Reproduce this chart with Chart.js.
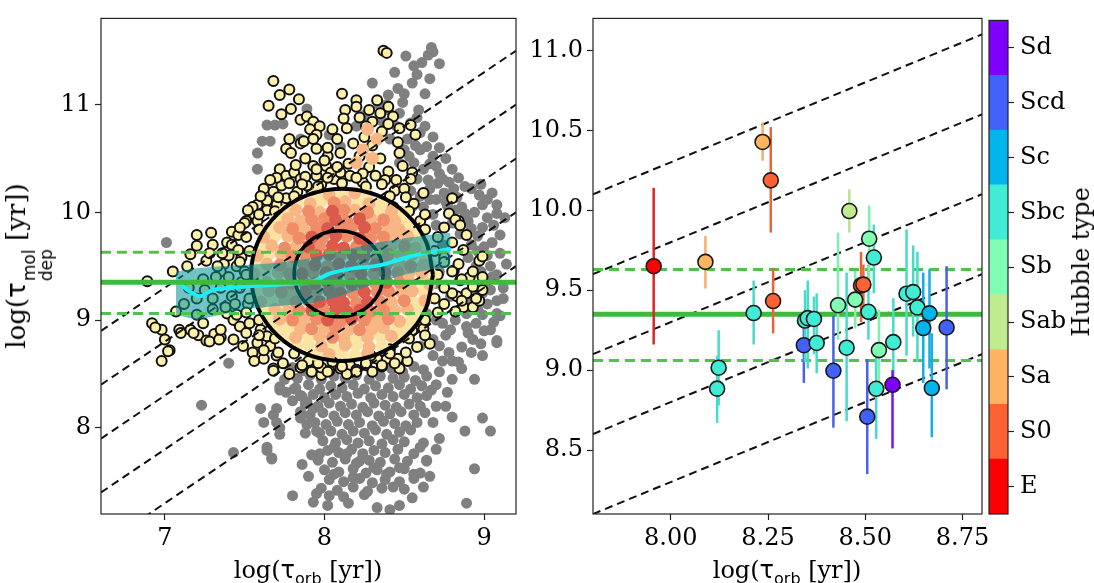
<!DOCTYPE html>
<html>
<head>
<meta charset="utf-8">
<script src="https://cdn.jsdelivr.net/npm/chart.js@4.4.1/dist/chart.umd.min.js"></script>
<style>
  html, body { margin: 0; padding: 0; background: #fff; }
  body { width: 1094px; height: 583px; position: relative; overflow: hidden; font-family: 'DejaVu Serif', serif; }
  .box { position: absolute; top: 0; height: 583px; }
  .title { position: absolute; font-size: 24px; white-space: nowrap; color: #000; line-height: 1; }
  .xt { top: 558px; width: 320px; text-align: center; }
  .rot { transform: translate(-50%, -50%) rotate(-90deg); }
  .m { font-family: 'DejaVu Sans', sans-serif; }
  .sub { font-family: 'DejaVu Sans', sans-serif; font-size: 16px; position: relative; top: 6px; }
  .stack { display: inline-flex; flex-direction: column; font-family: 'DejaVu Sans', sans-serif; font-size: 17px; line-height: 17px; vertical-align: -10px; margin-left: 1px; }
</style>
</head>
<body>
<div class="box" style="left:0;width:530px"><canvas id="leftChart" width="530" height="583"></canvas></div>
<div class="box" style="left:480px;width:520px"><canvas id="rightChart" width="520" height="583"></canvas></div>
<div class="box" style="left:960px;width:134px"><canvas id="barChart" width="134" height="583"></canvas></div>

<div class="title xt" style="left:148px">log(<span class="m">τ</span><span class="sub">orb</span> [yr])</div>
<div class="title xt" style="left:627px">log(<span class="m">τ</span><span class="sub">orb</span> [yr])</div>
<div class="title rot" style="left:29px;top:266px;font-size:26px">log(<span class="m">τ</span><span class="stack"><span>mol</span><span>dep</span></span> [yr])</div>
<div class="title rot" style="left:1081px;top:262px">Hubble type</div>

<script>
// axis ranges and ticks
const leftXRange = [6.6, 9.2];
const leftYRange = [7.2, 11.8];
const leftXTicks = [7, 8, 9];
const leftYTicks = [8, 9, 10, 11];
const rightXRange = [7.8, 8.8];
const rightYRange = [8.1, 11.2];
const rightXTicks = [8.0, 8.25, 8.5, 8.75];
const rightYTicks = [8.5, 9.0, 9.5, 10.0, 10.5, 11.0];

// median depletion time and its scatter
const depMedian = 9.35;
const depLow = 9.06;
const depHigh = 9.63;

// constant ratio lines [x0, y0, x1, y1]
const leftDiagLines = [
    [6.6, 8.9, 9.2, 11.5], [6.6, 8.4, 9.2, 11.0], [6.6, 7.9, 9.2, 10.5],
    [6.6, 7.4, 9.2, 10.0], [6.6, 6.9, 9.2, 9.5]
];
const rightDiagLines = [
    [7.8, 10.1, 8.8, 11.1], [7.8, 9.6, 8.8, 10.6], [7.8, 9.1, 8.8, 10.1],
    [7.8, 8.6, 8.8, 9.6], [7.8, 8.1, 8.8, 9.1]
];

// Hubble types (colorbar)
const hubbleTypes = ['E', 'S0', 'Sa', 'Sab', 'Sb', 'Sbc', 'Sc', 'Scd', 'Sd'];
const typeColors = ['#ff0000', '#ff6232', '#ffb462', '#bfec8e', '#80ffb4', '#40ecd4', '#00b4ec', '#4062fa', '#8000ff'];
const errColors = ['#d62828', '#ea6438', '#f2b06a', '#bce08c', '#7ef0b0', '#46dcc8', '#14aee2', '#4a62e6', '#7a12f0'];

// right panel: galaxies
const galX    = [7.956, 8.089, 8.236, 8.257, 8.263, 8.213, 8.123, 8.119, 8.342, 8.345, 8.352, 8.368, 8.375, 8.418, 8.430, 8.452, 8.459, 8.474, 8.489, 8.495, 8.508, 8.510, 8.522, 8.535, 8.528, 8.572, 8.570, 8.505, 8.606, 8.623, 8.634, 8.665, 8.649, 8.671, 8.709];
const galY    = [9.65, 9.677, 10.427, 10.187, 9.432, 9.357, 9.015, 8.884, 9.156, 9.31, 9.325, 9.32, 9.17, 8.996, 9.406, 9.14, 9.995, 9.441, 9.53, 9.535, 9.365, 9.822, 9.704, 9.125, 8.883, 9.175, 8.908, 8.709, 9.478, 9.488, 9.392, 9.355, 9.263, 8.888, 9.267];
const galLo   = [9.16, 9.51, 10.31, 9.86, 9.23, 9.16, 8.78, 8.67, 8.92, 9.05, 9.01, 9.10, 8.98, 8.64, 9.19, 8.68, 9.86, 9.26, 9.30, 9.36, 9.19, 9.54, 9.48, 8.90, 8.57, 8.86, 8.51, 8.35, 9.09, 9.21, 9.05, 9.01, 8.92, 8.58, 8.88];
const galHi   = [10.14, 9.84, 10.55, 10.52, 9.64, 9.56, 9.25, 9.09, 9.32, 9.50, 9.56, 9.46, 9.48, 9.34, 9.86, 9.61, 10.13, 9.62, 9.74, 9.66, 9.66, 10.03, 9.91, 9.38, 9.11, 9.45, 9.00, 9.07, 9.88, 9.78, 9.74, 9.63, 9.61, 9.23, 9.65];
const galType = [0, 2, 2, 1, 1, 5, 5, 5, 7, 5, 5, 5, 5, 7, 4, 5, 3, 4, 1, 1, 5, 4, 5, 4, 5, 5, 8, 7, 5, 5, 5, 6, 6, 6, 7];

// left panel: full sample (grey)
const grayPts = [
    [8.51,11.45],[8.56,11.36],[8.61,11.39],[8.65,11.46],[8.67,11.53],[8.68,11.49],[8.30,11.20],[8.66,11.24],[8.63,11.10],[8.40,11.09],
    [8.34,11.00],[8.39,11.00],[7.89,10.96],[7.64,10.81],[7.69,10.81],[7.74,10.82],[7.61,10.66],[7.66,10.66],[7.58,10.55],[7.58,10.40],
    [7.85,10.68],[8.03,10.72],[8.10,10.61],[8.47,10.92],[8.54,10.83],[8.60,10.74],[8.64,10.61],[8.68,10.52],[8.70,10.43],[8.74,10.31],
    [8.81,10.22],[8.66,10.22],[8.58,10.31],[8.56,10.46],[8.47,10.46],[8.52,10.68],[8.41,10.68],[8.45,10.80],[8.36,10.85],[8.50,10.58],
    [8.62,10.40],[8.72,10.36],[8.78,10.28],[8.60,10.15],[8.70,10.12],[8.55,10.05],[8.25,10.90],[8.20,10.80],[8.59,10.95],[8.49,11.02],
    [8.57,10.62],[8.65,10.30],[8.75,10.18],[8.62,10.05],[8.68,9.98],[8.76,10.10],[8.83,10.14],[8.71,10.27],
    [8.58,10.88],[8.63,10.80],[8.68,10.70],[8.72,10.60],[8.76,10.50],[8.80,10.40],[8.84,10.32],[8.88,10.24],[8.92,10.22],[9.02,10.12],
    [8.86,10.05],[8.94,10.00],[9.02,9.95],[9.06,9.88],[8.96,9.78],[9.00,9.68],[9.10,9.62],[8.96,9.64],[9.04,9.50],[8.98,9.45],
    [9.08,9.42],[9.12,9.20],[9.04,9.28],[9.02,9.15],[9.06,8.98],[8.96,9.10],[8.90,8.88],[8.98,8.78],[8.92,8.70],[8.86,8.55],
    [8.80,8.62],[8.72,8.76],[8.76,8.86],[8.70,9.00],[8.66,9.20],[8.72,9.45],[8.74,9.70],[8.70,9.88],[8.66,10.12],[8.54,10.20],
    [8.60,10.58],[8.53,10.52],[8.66,10.45],[8.82,10.02],[8.90,9.92],[8.98,10.26],[9.05,10.18],[8.46,11.15],[8.55,11.20],[8.44,11.30],
    [8.58,11.28],[8.50,11.10],[8.72,11.38],[8.40,10.95],
    [8.97,10.16],[8.99,10.07],[9.08,10.07],[9.13,9.95],[9.10,9.79],[8.77,10.06],[8.88,9.99],[8.99,9.86],[9.08,9.99],[9.14,9.52],
    [8.99,9.25],[9.08,9.18],[9.10,9.04],[8.95,8.97],[9.08,8.81],[8.99,8.67],[8.89,9.06],[8.99,9.05],[9.08,9.06],[8.79,8.91],
    [8.89,8.94],[8.84,8.61],[8.77,8.33],[8.68,8.67],[8.72,8.52],[8.60,8.76],[8.68,8.82],[8.74,8.97],[8.79,9.22],[8.64,9.06],
    [8.70,9.34],[8.92,9.70],[9.02,9.60],[9.05,9.40],[8.85,9.80],[8.80,9.90],[8.95,9.50],[9.12,9.30],[8.92,9.15],[8.85,9.10],
    [9.00,8.90],[9.04,8.91],[9.08,8.79],[8.92,9.85],[9.05,9.72],[8.90,9.58],[9.00,9.35],[8.82,9.00],[8.93,8.82],[8.86,8.75],
    [8.78,8.70],[8.74,8.62],[8.80,8.45],[8.70,8.40],
    [7.01,9.72],[7.23,8.21],[7.60,8.18],[7.64,7.79],[7.67,7.71],[7.43,7.77],[8.88,7.97],[8.94,8.45],[8.99,8.09],[9.04,7.97],
    [8.94,7.62],[7.80,7.37],[7.95,7.39],[8.03,7.37],[8.12,7.36],[7.93,7.31],[8.02,7.28],[8.33,7.26],[8.41,7.24],[8.89,7.30],
    [7.40,8.60],[7.72,8.35],[7.70,8.05],
    [7.85,8.15],[7.80,8.25],[7.75,8.45],[8.70,8.20],[8.68,8.05],[8.72,7.90],[8.66,7.55],[8.70,7.80],[8.62,7.45],[7.90,7.55],
    [7.92,7.75],[7.88,7.95],[8.15,7.30],[8.25,7.38],[8.55,7.35],[8.47,7.28],[7.86,7.66],[8.76,8.20],[8.80,8.10],
    [7.72,8.38],[7.76,8.33],[7.81,8.36],[7.85,8.30],[7.89,8.24],[7.93,8.18],[7.85,8.09],[7.89,8.03],[7.95,7.97],[7.70,8.18],
    [7.68,8.12],[7.62,8.05],[7.72,8.00],[7.64,7.82],[7.67,7.72],[7.72,7.94],
    [7.97,7.76],[8.06,7.82],[8.14,7.76],[8.22,7.69],[8.31,7.63],[8.39,7.57],[8.47,7.63],[8.56,7.57],[8.64,7.69],[8.60,7.82],
    [8.43,7.45],[8.18,7.54],[8.06,7.57],
    [7.80,8.56],[7.87,8.53],[7.95,8.57],[8.42,8.55],[8.49,8.52],[8.56,8.57],[8.62,8.54],
    [7.83,8.46],[7.91,8.49],[7.98,8.45],[8.06,8.48],[8.13,8.46],[8.20,8.49],[8.28,8.45],[8.35,8.48],[8.43,8.46],[8.50,8.47],[8.57,8.44],[8.64,8.48],
    [7.82,8.37],[7.90,8.40],[7.97,8.36],[8.04,8.39],[8.11,8.37],[8.18,8.40],[8.25,8.36],[8.32,8.39],[8.40,8.37],[8.47,8.40],[8.54,8.36],[8.61,8.39],[8.67,8.35],
    [7.86,8.29],[7.93,8.31],[8.00,8.28],[8.07,8.31],[8.14,8.29],[8.21,8.32],[8.29,8.28],[8.36,8.31],[8.43,8.29],[8.50,8.31],[8.58,8.28],[8.64,8.30],
    [7.88,8.22],[7.96,8.20],[8.03,8.23],[8.10,8.20],[8.17,8.22],[8.24,8.19],[8.31,8.23],[8.38,8.21],[8.45,8.19],[8.53,8.22],[8.60,8.20],
    [7.91,8.12],[7.99,8.14],[8.06,8.11],[8.13,8.14],[8.20,8.12],[8.27,8.15],[8.34,8.11],[8.41,8.13],[8.48,8.15],[8.56,8.12],[8.63,8.14],
    [7.94,8.05],[8.01,8.03],[8.08,8.06],[8.15,8.03],[8.22,8.05],[8.30,8.02],[8.37,8.06],[8.44,8.04],[8.51,8.02],[8.58,8.05],
    [7.97,7.95],[8.04,7.97],[8.11,7.94],[8.18,7.97],[8.25,7.95],[8.32,7.98],[8.39,7.94],[8.47,7.96],[8.54,7.98],
    [7.99,7.88],[8.07,7.86],[8.14,7.89],[8.21,7.86],[8.28,7.88],[8.36,7.85],[8.43,7.89],[8.50,7.87],[8.62,7.86],
    [8.02,7.79],[8.09,7.77],[8.17,7.80],[8.24,7.76],[8.31,7.79],[8.38,7.77],[8.46,7.80],[8.56,7.76],
    [7.96,7.70],[8.05,7.68],[8.13,7.71],[8.20,7.67],[8.28,7.70],[8.35,7.68],[8.44,7.71],[8.52,7.69],[8.64,7.70],
    [8.00,7.61],[8.09,7.59],[8.18,7.62],[8.26,7.58],[8.33,7.61],[8.41,7.59],[8.50,7.62],[8.60,7.58],
    [8.03,7.52],[8.12,7.50],[8.22,7.53],[8.30,7.49],[8.38,7.52],[8.47,7.50],[8.56,7.53],
    [7.98,7.44],[8.08,7.42],[8.18,7.45],[8.27,7.41],[8.36,7.44],[8.50,7.43]
];

// left panel: low density sub-sample (outlined)
const yellowPts = [
    [7.68,11.22],[7.72,11.09],[7.78,11.14],[7.84,11.05],[7.65,10.99],[7.73,10.91],[7.79,10.96],[7.85,10.86],[7.89,10.89],[7.93,10.84],
    [7.91,10.77],[7.97,10.80],[8.11,11.10],[8.20,11.04],[8.13,10.95],[8.37,11.50],[8.39,11.48],
    [8.05,10.77],[7.95,10.72],[7.78,10.68],[7.85,10.64],[7.76,10.59],[7.79,10.55],[7.87,10.66],[7.93,10.68],[7.95,10.59],[8.02,10.52],[8.10,10.55],
    [8.43,10.89],[8.47,10.78],[8.54,10.81],[8.57,10.72],[8.47,10.55],[8.49,10.43],[8.55,10.37],[8.54,10.31],
    [7.72,10.40],[7.76,10.34],[7.81,10.37],[7.85,10.31],[7.73,10.25],[7.68,10.19],[7.64,10.11],[7.58,10.07],[7.56,9.98],[7.51,9.92],
    [7.58,9.92],[7.64,10.02],[7.70,10.07],[7.76,10.13],[7.83,10.19],[7.89,10.25],[7.95,10.34],[7.93,10.43],[8.01,10.43],[8.06,10.31],[8.10,10.37],
    [7.20,9.79],[7.29,9.81],[7.42,9.82],[7.16,9.61],
    [7.20,9.69],[7.30,9.70],[7.14,9.50],[7.05,9.45],[6.89,9.36],[7.07,9.08],[6.92,8.97],[6.98,8.91],[7.00,8.82],[7.03,8.72],
    [6.98,8.62],[7.09,8.91],[7.16,8.91],[7.21,8.86],[7.24,8.97],[7.31,8.87],[7.26,8.81],[7.35,8.84],[6.94,8.93],[7.02,8.71],
    [7.10,8.88],[7.18,8.88],[7.28,8.80],[7.34,8.82],[7.35,8.91],
    [7.39,9.72],[7.46,9.79],[7.37,9.52],[7.48,9.58],[7.26,9.55],[7.35,9.45],[7.24,9.38],
    [7.39,9.06],[7.43,9.00],[7.47,8.94],[7.51,8.88],[7.43,8.82],[7.49,8.76],[7.55,8.70],[7.58,8.79],[7.53,8.97],[7.60,8.91],
    [7.64,8.85],[7.66,8.76],[7.62,8.64],[7.70,8.67],[7.68,8.55],
    [7.68,8.53],[7.85,8.56],[7.92,8.52],[8.05,8.61],[8.10,8.55],[8.16,8.58],[8.20,8.54],[8.26,8.58],[8.33,8.64],[8.39,8.64],
    [8.46,8.64],[8.47,8.55],[8.55,8.90],[8.56,8.98],[8.41,8.73],[8.29,8.67],[7.78,8.50],[7.98,8.49],[8.03,8.53],[8.36,8.57],[7.90,8.62],
    [8.81,9.46],[8.85,9.37],[8.91,9.40],[8.95,9.31],[8.89,9.25],[8.83,9.22],[8.87,9.12],[8.93,9.12],[8.99,9.28],[8.97,9.18],
    [8.75,9.86],[8.84,9.92],[8.80,9.72],[8.87,9.65],[8.75,9.58],[8.84,9.52],[8.97,9.55],[8.93,9.45],[8.99,9.40],[8.80,9.45],
    [8.86,9.38],[8.93,9.31],[8.80,9.25],[8.75,9.15],[8.86,9.18],[8.95,9.20],[8.82,9.08],[8.80,10.13],[8.78,9.99],[8.82,9.93],
    [8.85,9.88],[8.89,9.79],[8.99,9.59],
    [7.40,9.60],[7.45,9.50],[7.40,9.40],[7.35,9.30],[7.42,9.22],[7.38,9.12],[7.45,9.05],[7.33,9.50],[7.30,9.20],[7.25,9.28],
    [7.20,9.20],[7.15,9.30],[7.42,9.70],[7.50,9.90],[7.55,10.05],[7.30,9.10],[7.20,9.05],[7.12,9.15],
    [7.46,9.65],[7.50,9.45],[7.48,9.35],[7.52,9.15],[7.44,9.15],[7.36,9.62],[7.32,9.40],[7.28,9.62],[7.62,10.22],[7.70,10.32],
    [7.82,10.44],[7.88,10.50],[7.98,10.26],[8.04,10.37],[7.52,10.02],[7.47,9.86],[7.56,8.62],[7.62,8.72],[7.74,8.60],[7.98,8.56],
    [8.14,8.50],[8.30,8.52],[8.44,8.60],[8.52,8.62],[8.58,8.75],[8.62,8.92],[8.66,8.78],[8.24,10.28],[8.44,10.20],[8.56,10.08],
    [8.62,10.18],[8.60,9.92],
    [7.95,10.40],[8.00,10.48],[8.15,10.45],[8.22,10.52],[8.28,10.42],[8.35,10.50],[8.40,10.38],[8.30,10.62],[8.25,10.70],[8.18,10.64],
    [8.36,10.75],[8.30,10.84],[8.22,10.88],[8.28,10.95],[8.35,10.92],[8.40,10.98],[8.14,10.78],[8.08,10.42],[8.45,10.30],[8.50,10.22],
    [8.38,10.30],[7.88,10.33],[7.78,10.27],[7.60,10.15],[7.66,10.30],[8.02,10.60],[8.46,10.65],[8.43,10.05],[8.16,10.34],[8.24,10.36],
    [8.32,10.34],[8.20,10.98],[8.33,11.04],[8.26,10.80],[8.40,10.82],[8.08,10.68],[8.12,10.87],
    [8.71,9.42],[8.69,9.64],[8.63,9.84],[8.53,10.01],[8.41,10.15],[8.26,10.24],[8.11,10.27],[7.96,10.24],[7.81,10.15],[7.69,10.01],
    [7.59,9.84],[7.53,9.64],[7.51,9.42],[7.53,9.20],[7.59,9.00],[7.69,8.83],[7.81,8.69],[7.96,8.60],[8.11,8.57],[8.26,8.60],
    [8.41,8.69],[8.53,8.83],[8.63,9.00],[8.69,9.20],
    [8.75,9.54],[8.71,9.77],[8.63,9.98],[8.51,10.14],[8.36,10.26],[8.20,10.32],[8.02,10.32],[7.86,10.26],[7.71,10.14],[7.59,9.98],
    [7.51,9.77],[7.47,9.54],[7.47,9.30],[7.51,9.07],[7.59,8.86],[7.71,8.70],[7.86,8.58],[8.02,8.52],[8.20,8.52],[8.36,8.58],
    [8.51,8.70],[8.63,8.86],[8.71,9.07],[8.75,9.30]
];

// left panel: high density sub-sample, by density class
const densPale = [
    [7.95,10.17],[8.11,10.18],[8.27,10.16],[7.83,10.09],[7.98,10.10],[8.21,10.08],[8.36,10.09],[7.75,10.01],[8.34,10.02],[8.48,10.00],
    [7.70,9.93],[8.51,9.94],[7.65,9.85],[8.55,9.86],[7.69,9.78],[8.59,9.76],[7.60,9.68],[8.63,9.69],[7.65,9.61],[8.63,9.59],
    [7.57,9.51],[8.66,9.52],[7.63,9.44],[8.67,9.42],[7.57,9.34],[8.62,9.35],[7.58,9.26],[8.62,9.27],[7.67,9.18],[8.57,9.16],
    [7.62,9.09],[8.59,9.10],[7.65,9.00],[8.55,9.01],[7.70,8.92],[7.77,8.93],[8.45,8.91],[8.52,8.93],[7.75,8.84],[7.90,8.85],
    [8.20,8.83],[8.35,8.85],[8.48,8.84],[7.83,8.76],[7.90,8.77],[8.05,8.75],[8.20,8.77],[8.36,8.76],[7.95,8.68],[8.11,8.69],[8.19,8.67]
];
const densPeach = [
    [8.03,10.16],[8.19,10.18],[7.91,10.08],[8.13,10.10],[8.28,10.08],[7.82,10.02],[7.97,10.00],[8.19,10.02],[8.42,10.01],
    [7.77,9.94],[7.85,9.92],[8.29,9.94],[8.44,9.92],[7.72,9.86],[7.87,9.84],[8.40,9.86],[8.47,9.84],
    [7.62,9.77],[7.77,9.78],[8.44,9.77],[8.52,9.78],[7.67,9.69],[7.82,9.68],[8.42,9.69],[8.57,9.67],
    [7.58,9.60],[7.73,9.61],[8.48,9.60],[8.55,9.61],[7.64,9.52],[7.79,9.50],[8.47,9.52],[8.62,9.51],
    [7.56,9.43],[7.71,9.44],[8.53,9.43],[8.61,9.44],[7.64,9.35],[7.72,9.33],[8.54,9.34],[8.66,9.33],
    [7.65,9.27],[7.80,9.25],[8.48,9.26],[8.55,9.27],[7.60,9.17],[7.75,9.18],[8.42,9.17],[8.63,9.18],
    [7.69,9.10],[7.77,9.08],[8.44,9.09],[8.52,9.10],[7.72,9.01],[7.87,9.00],[8.32,9.01],[8.47,8.99],
    [7.85,8.92],[8.00,8.93],[8.15,8.91],[8.30,8.92],[8.37,8.93],[7.82,8.84],[7.97,8.85],[8.12,8.83],[8.27,8.84],[8.42,8.85],
    [7.98,8.76],[8.13,8.77],[8.28,8.75],[8.03,8.68],[8.27,8.69],
    [8.24,10.58],[8.30,10.50],[8.27,10.77],[8.33,10.68],[8.20,10.46]
];
const densSalmon = [
    [8.06,10.09],[7.90,10.01],[8.12,10.02],[8.27,10.00],[7.92,9.93],[8.00,9.94],[8.14,9.92],[8.37,9.93],
    [7.80,9.85],[7.95,9.86],[8.10,9.84],[8.17,9.86],[8.32,9.85],[7.84,9.76],[7.99,9.77],[8.14,9.78],[8.29,9.76],[8.37,9.77],
    [7.75,9.67],[7.97,9.69],[8.20,9.68],[8.35,9.67],[8.50,9.69],[7.80,9.59],[7.88,9.61],[8.10,9.60],[8.33,9.59],[8.40,9.61],
    [7.72,9.51],[7.87,9.52],[8.02,9.50],[8.24,9.51],[8.39,9.52],[8.54,9.50],[7.78,9.43],[7.93,9.44],[8.16,9.42],[8.31,9.43],[8.46,9.44],
    [7.79,9.34],[7.87,9.35],[8.09,9.33],[8.32,9.34],[8.47,9.35],[7.73,9.26],[7.95,9.27],[8.18,9.25],[8.33,9.26],[8.40,9.27],
    [7.82,9.17],[7.90,9.18],[8.20,9.16],[8.35,9.17],[8.50,9.18],[7.84,9.09],[7.99,9.10],[8.29,9.08],[8.37,9.09],
    [7.80,9.00],[7.95,9.01],[8.10,8.99],[8.25,9.00],[8.40,9.01],[7.92,8.92],[8.07,8.93],[8.22,8.91],[8.05,8.84]
];
const densRed = [
    [8.05,10.01],[8.07,9.93],[8.22,9.94],[8.02,9.85],[8.25,9.86],[7.92,9.77],[8.07,9.78],[8.22,9.76],
    [7.90,9.68],[8.05,9.69],[8.12,9.67],[8.27,9.68],[7.95,9.60],[8.03,9.61],[8.18,9.60],[8.25,9.59],
    [7.94,9.51],[8.09,9.52],[8.17,9.50],[8.32,9.51],[7.86,9.43],[8.01,9.44],[8.08,9.42],[8.23,9.43],[8.38,9.44],
    [7.94,9.34],[8.02,9.35],[8.17,9.33],[8.24,9.34],[8.39,9.35],[7.88,9.26],[8.03,9.27],[8.10,9.25],[8.25,9.26],
    [7.97,9.17],[8.05,9.18],[8.12,9.16],[8.27,9.17],[7.92,9.09],[8.07,9.10],[8.14,9.08],[8.22,9.09],[8.02,9.00],[8.17,9.01]
];

// running median and its spread
const medianX = [7.07, 7.15, 7.22, 7.30, 7.50, 7.72, 7.93, 8.03, 8.18, 8.35, 8.56, 8.79];
const medianY = [9.38, 9.27, 9.22, 9.28, 9.31, 9.33, 9.36, 9.43, 9.48, 9.51, 9.60, 9.66];
const bandX    = [7.07, 7.20, 7.35, 7.50, 7.70, 7.90, 8.10, 8.30, 8.50, 8.70, 8.79];
const bandHigh = [9.45, 9.48, 9.50, 9.51, 9.53, 9.57, 9.64, 9.71, 9.76, 9.80, 9.81];
const bandLow  = [9.05, 9.00, 9.05, 9.10, 9.13, 9.15, 9.22, 9.33, 9.42, 9.48, 9.49];

// density contours
const outerContour = [
    [8.68,9.42],[8.637,9.726],[8.513,9.986],[8.328,10.159],[8.11,10.22],[7.892,10.159],[7.707,9.986],[7.583,9.726],
    [7.54,9.42],[7.583,9.114],[7.707,8.854],[7.892,8.681],[8.11,8.62],[8.328,8.681],[8.513,8.854],[8.637,9.114],[8.68,9.42]
];
const innerContour = [
    [8.37,9.43],[8.349,9.583],[8.288,9.713],[8.197,9.80],[8.09,9.83],[7.983,9.80],[7.892,9.713],[7.831,9.583],
    [7.81,9.43],[7.831,9.277],[7.892,9.147],[7.983,9.06],[8.09,9.03],[8.197,9.06],[8.288,9.147],[8.349,9.277],[8.37,9.43]
];

const SERIF = "'DejaVu Serif', serif";
Chart.defaults.font.family = SERIF;
Chart.defaults.font.size = 24;
Chart.defaults.color = '#000';

const toXY = pts => pts.map(p => ({ x: p[0], y: p[1] }));
const zip = (xs, ys) => xs.map((x, i) => ({ x: x, y: ys[i] }));

/**
 * Draws the box around the plot area
 */
const framePlugin = {
    id: 'frame',
    afterDraw(chart) {
        const { ctx, chartArea: a } = chart;
        ctx.save();
        ctx.strokeStyle = '#222';
        ctx.lineWidth = 1.2;
        ctx.strokeRect(a.left, a.top, a.right - a.left, a.bottom - a.top);
        ctx.restore();
    }
};

/**
 * Builds a linear axis with fixed ticks and a fixed size
 */
function makeAxis(range, ticks, digits, size, isX) {
    return {
        type: 'linear',
        min: range[0],
        max: range[1],
        afterBuildTicks: s => { s.ticks = ticks.map(v => ({ value: v })); },
        afterFit: s => { if (isX) s.height = size; else s.width = size; },
        ticks: {
            autoSkip: false,
            maxRotation: 0,
            padding: 4,
            color: '#000',
            font: { family: SERIF, size: 24 },
            callback: v => v.toFixed(digits)
        },
        grid: { drawOnChartArea: false, drawTicks: true, tickLength: 6, tickWidth: 1.2, color: '#222' },
        border: { display: false }
    };
}

function lineSet(points, color, width, dash, order) {
    return {
        type: 'line',
        data: points,
        borderColor: color,
        borderWidth: width,
        borderDash: dash,
        pointRadius: 0,
        fill: false,
        order: order
    };
}

function dotSet(points, color, radius, order, outline) {
    return {
        type: 'scatter',
        data: toXY(points),
        backgroundColor: color,
        borderColor: outline ? '#111' : color,
        borderWidth: outline ? 2 : 0,
        pointRadius: radius,
        pointHoverRadius: radius,
        order: order
    };
}

// ---- left panel ----
const leftSets = [];
leftSets.push(lineSet([{ x: leftXRange[0], y: depMedian }, { x: leftXRange[1], y: depMedian }], '#3dbb3d', 5, [], 0));
[depLow, depHigh].forEach(v => {
    leftSets.push(lineSet([{ x: leftXRange[0], y: v }, { x: leftXRange[1], y: v }], '#4cc44c', 3, [10, 6], 1));
});
leftSets.push(Object.assign(lineSet(zip(medianX, medianY), '#1aeef6', 4, [], 2), { tension: 0.3 }));
leftSets.push({
    type: 'line',
    data: zip(bandX, bandHigh),
    borderWidth: 0,
    pointRadius: 0,
    backgroundColor: 'rgba(0,145,150,0.55)',
    fill: '+1',
    order: 3
});
leftSets.push({ type: 'line', data: zip(bandX, bandLow), borderWidth: 0, pointRadius: 0, fill: false, order: 3 });
leftSets.push(Object.assign(lineSet(toXY(innerContour), '#000', 3.5, [], 4), { tension: 0.3 }));
leftSets.push(Object.assign(lineSet(toXY(outerContour), '#000', 4, [], 5), { tension: 0.3 }));
leftDiagLines.forEach(l => {
    leftSets.push(lineSet([{ x: l[0], y: l[1] }, { x: l[2], y: l[3] }], '#111', 2, [8, 5], 6));
});
leftSets.push(dotSet(densRed, '#dc5a4b', 6.5, 7, false));
leftSets.push(dotSet(densSalmon, '#ef8d69', 6.5, 8, false));
leftSets.push(dotSet(densPeach, '#f7b683', 6.5, 9, false));
leftSets.push(dotSet(densPale, '#fbe4a2', 6.5, 10, false));
leftSets.push(dotSet(yellowPts, '#fdf0a8', 5, 11, true));
leftSets.push(dotSet(grayPts, '#808080', 5.5, 12, false));

new Chart(document.getElementById('leftChart'), {
    type: 'scatter',
    data: { datasets: leftSets },
    options: {
        responsive: false,
        animation: false,
        layout: { padding: { left: 0, top: 10, right: 14, bottom: 0 } },
        plugins: { legend: { display: false }, tooltip: { enabled: false } },
        scales: {
            x: makeAxis(leftXRange, leftXTicks, 0, 69, true),
            y: makeAxis(leftYRange, leftYTicks, 0, 101, false)
        }
    },
    plugins: [framePlugin]
});

// ---- right panel ----
const galIndex = 0;

/**
 * Draws the vertical error bars just below the galaxy markers
 */
const errorBarPlugin = {
    id: 'errorBars',
    beforeDatasetDraw(chart, args) {
        if (args.index !== galIndex) return;
        const { ctx, scales: { x, y } } = chart;
        ctx.save();
        ctx.lineWidth = 2.5;
        galX.forEach((gx, i) => {
            const px = x.getPixelForValue(gx);
            ctx.strokeStyle = errColors[galType[i]];
            ctx.beginPath();
            ctx.moveTo(px, y.getPixelForValue(galLo[i]));
            ctx.lineTo(px, y.getPixelForValue(galHi[i]));
            ctx.stroke();
        });
        ctx.restore();
    }
};

const rightSets = [{
    type: 'scatter',
    data: zip(galX, galY),
    backgroundColor: galType.map(t => typeColors[t]),
    borderColor: '#1a1a1a',
    borderWidth: 1.6,
    pointRadius: 7.5,
    pointHoverRadius: 7.5,
    order: 0
}];
rightSets.push(lineSet([{ x: rightXRange[0], y: depMedian }, { x: rightXRange[1], y: depMedian }], '#3dbb3d', 5, [], 1));
[depLow, depHigh].forEach(v => {
    rightSets.push(lineSet([{ x: rightXRange[0], y: v }, { x: rightXRange[1], y: v }], '#4cc44c', 3, [10, 6], 2));
});
rightDiagLines.forEach(l => {
    rightSets.push(lineSet([{ x: l[0], y: l[1] }, { x: l[2], y: l[3] }], '#111', 2, [8, 5], 3));
});

new Chart(document.getElementById('rightChart'), {
    type: 'scatter',
    data: { datasets: rightSets },
    options: {
        responsive: false,
        animation: false,
        layout: { padding: { left: 0, top: 10, right: 18, bottom: 0 } },
        plugins: { legend: { display: false }, tooltip: { enabled: false } },
        scales: {
            x: makeAxis(rightXRange, rightXTicks, 2, 69, true),
            y: makeAxis(rightYRange, rightYTicks, 1, 113, false)
        }
    },
    plugins: [framePlugin, errorBarPlugin]
});

// ---- colorbar ----
const typeSlots = hubbleTypes.map((t, i) => i + 0.5);

new Chart(document.getElementById('barChart'), {
    type: 'bar',
    data: {
        labels: [''],
        datasets: hubbleTypes.map((t, i) => ({
            label: t,
            data: [1],
            backgroundColor: typeColors[i],
            borderWidth: 0,
            barPercentage: 1,
            categoryPercentage: 1
        }))
    },
    options: {
        responsive: false,
        animation: false,
        layout: { padding: { left: 29, top: 10, right: 0, bottom: 69 } },
        plugins: { legend: { display: false }, tooltip: { enabled: false } },
        scales: {
            x: { display: false, stacked: true },
            y: {
                position: 'right',
                stacked: true,
                min: 0,
                max: hubbleTypes.length,
                afterBuildTicks: s => { s.ticks = typeSlots.map(v => ({ value: v })); },
                afterFit: s => { s.width = 86; },
                ticks: {
                    autoSkip: false,
                    padding: 6,
                    color: '#000',
                    font: { family: SERIF, size: 24 },
                    callback: (v, i) => hubbleTypes[i]
                },
                grid: { drawOnChartArea: false, tickLength: 6, tickWidth: 1.2, color: '#222' },
                border: { display: false }
            }
        }
    },
    plugins: [framePlugin]
});
</script>
</body>
</html>
